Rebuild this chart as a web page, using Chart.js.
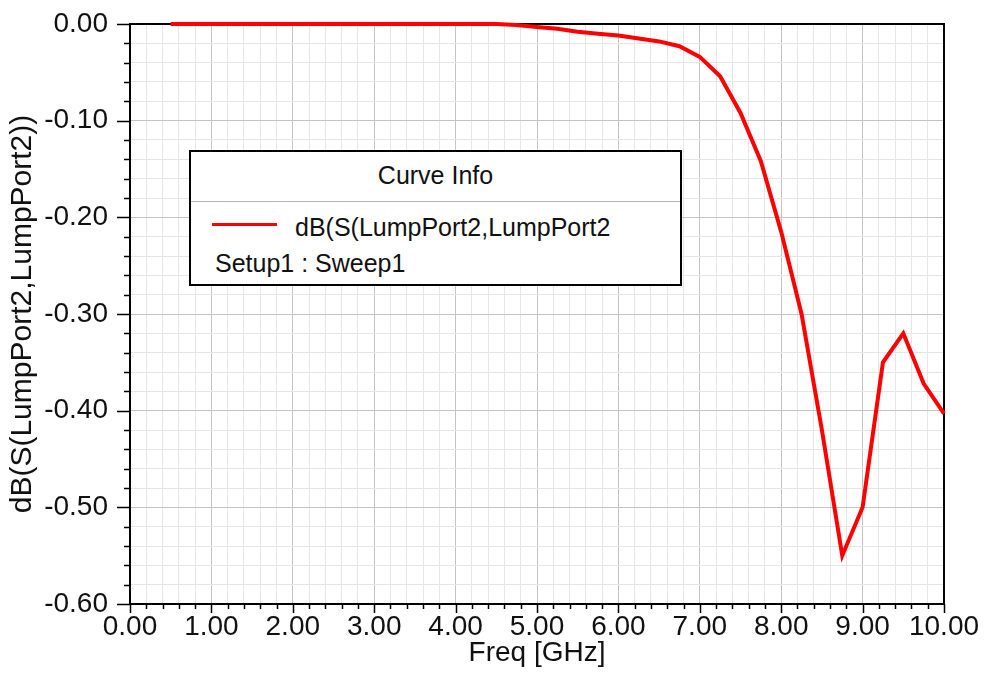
<!DOCTYPE html>
<html>
<head>
<meta charset="utf-8">
<title>dB(S(LumpPort2,LumpPort2))</title>
<script src="https://cdn.jsdelivr.net/npm/chart.js@4/dist/chart.umd.min.js"></script>
<style>
  body { margin: 0; background: #fff; }
  #wrap { position: relative; width: 985px; height: 677px; }
  #curveInfo {
    position: absolute; left: 189px; top: 150px; width: 493px; height: 136px;
    box-sizing: border-box; border: 2px solid #000; background: #fff;
    font-family: "Liberation Sans", Arial, sans-serif; font-size: 25px; color: #111;
  }
  #curveInfo .hdr { position: absolute; left: 0; right: 0; top: 0; height: 49px; line-height: 47px;
    text-align: center; border-bottom: 1px solid #b4b4b4; }
  #curveInfo .swatch { position: absolute; left: 21px; top: 71px; width: 65px; height: 3px; background: #ff0000; }
  #curveInfo .row1 { position: absolute; left: 104px; top: 60px; line-height: 30px; }
  #curveInfo .row2 { position: absolute; left: 24px; top: 96px; line-height: 30px; }
</style>
</head>
<body>
<div id="wrap">
  <canvas id="s22Chart" width="985" height="677"></canvas>
  <div id="curveInfo">
    <div class="hdr">Curve Info</div>
    <span class="swatch"></span>
    <span class="row1">dB(S(LumpPort2,LumpPort2</span>
    <span class="row2">Setup1 : Sweep1</span>
  </div>
</div>
<script>
// =============== DATA ===============
const freqGHz = [0.5, 0.75, 1.0, 1.25, 1.5, 1.75, 2.0, 2.25, 2.5, 2.75, 3.0, 3.25, 3.5, 3.75,
  4.0, 4.25, 4.5, 4.75, 5.0, 5.25, 5.5, 5.75, 6.0, 6.25, 6.5, 6.75, 7.0, 7.25, 7.5, 7.75,
  8.0, 8.25, 8.5, 8.75, 9.0, 9.25, 9.5, 9.75, 10.0];
const s22dB = [0, 0, 0, 0, 0, 0, 0, 0, 0, 0, 0, 0, 0, 0,
  0, 0, 0, -0.001, -0.003, -0.005, -0.008, -0.010, -0.012, -0.015, -0.018, -0.023, -0.034, -0.054, -0.092, -0.142,
  -0.215, -0.300, -0.420, -0.550, -0.500, -0.350, -0.320, -0.372, -0.403];

const xMin = 0, xMax = 10, xMajor = 1, xMinor = 0.2;
const yMin = -0.6, yMax = 0, yMajor = 0.1, yMinor = 0.02;

const xTitle = "Freq [GHz]";
const yTitle = "dB(S(LumpPort2,LumpPort2))";
const lineColor = "#ff0000";

const FONT = "'Liberation Sans', Arial, sans-serif";
const TEXT = "#111";

const isMajor = (v, step) => Math.abs(v / step - Math.round(v / step)) < 1e-6;

// draws plot frame + outward tick marks (long on majors, short on minors)
const frameTicks = {
  id: "frameTicks",
  beforeDatasetsDraw(chart) {
    const { ctx, chartArea: a, scales: { x, y } } = chart;
    ctx.save();
    ctx.strokeStyle = "#000";
    ctx.lineWidth = 1.5;
    ctx.beginPath();
    x.ticks.forEach(t => {
      const px = Math.round(x.getPixelForValue(t.value)) + 0.5;
      const len = isMajor(t.value, xMajor) ? 9 : 5;
      ctx.moveTo(px, a.bottom);
      ctx.lineTo(px, a.bottom + len);
    });
    y.ticks.forEach(t => {
      const py = Math.round(y.getPixelForValue(t.value)) + 0.5;
      const len = isMajor(t.value, yMajor) ? 13 : 6;
      ctx.moveTo(a.left, py);
      ctx.lineTo(a.left - len, py);
    });
    ctx.stroke();
    ctx.lineWidth = 2;
    ctx.strokeRect(a.left, a.top, a.right - a.left, a.bottom - a.top);
    ctx.restore();
  }
};

const gridColor = step => c => isMajor(c.tick.value, step) ? "#c4c4c4" : "#e6e6e6";

new Chart(document.getElementById("s22Chart"), {
  type: "line",
  data: {
    datasets: [{
      label: "dB(S(LumpPort2,LumpPort2))",
      data: freqGHz.map((f, i) => ({ x: f, y: s22dB[i] })),
      borderColor: lineColor,
      borderWidth: 4,
      pointRadius: 0,
      tension: 0,
      fill: false,
      clip: false,
    }],
  },
  options: {
    responsive: false,
    animation: false,
    layout: { padding: { left: 0, right: 41, top: 24, bottom: 0 } },
    plugins: { legend: { display: false }, tooltip: { enabled: false } },
    scales: {
      x: {
        type: "linear",
        min: xMin, max: xMax,
        afterFit: s => { s.height = 73; s.paddingLeft = 0; s.paddingRight = 0; },
        border: { display: false },
        grid: { color: gridColor(xMajor), lineWidth: 1, drawTicks: false },
        ticks: {
          stepSize: xMinor, autoSkip: false, maxRotation: 0, padding: 6,
          color: TEXT, font: { family: FONT, size: 28 },
          callback: v => isMajor(v, xMajor) ? v.toFixed(2) : "",
        },
        title: { display: true, text: xTitle, color: TEXT, font: { family: FONT, size: 28 },
          padding: { top: 0, bottom: 7 } },
      },
      y: {
        type: "linear",
        min: yMin, max: yMax,
        afterFit: s => { s.width = 130; s.paddingTop = 0; s.paddingBottom = 0; },
        border: { display: false },
        grid: { color: gridColor(yMajor), lineWidth: 1, drawTicks: false },
        ticks: {
          stepSize: yMinor, autoSkip: false, padding: 22,
          color: TEXT, font: { family: FONT, size: 28 },
          callback: v => isMajor(v, yMajor) ? (Math.abs(v) < 1e-9 ? "0.00" : v.toFixed(2)) : "",
        },
        title: { display: true, text: yTitle, color: TEXT, font: { family: FONT, size: 30 },
          padding: { top: 5, bottom: 0 } },
      },
    },
  },
  plugins: [frameTicks],
});
</script>
</body>
</html>
